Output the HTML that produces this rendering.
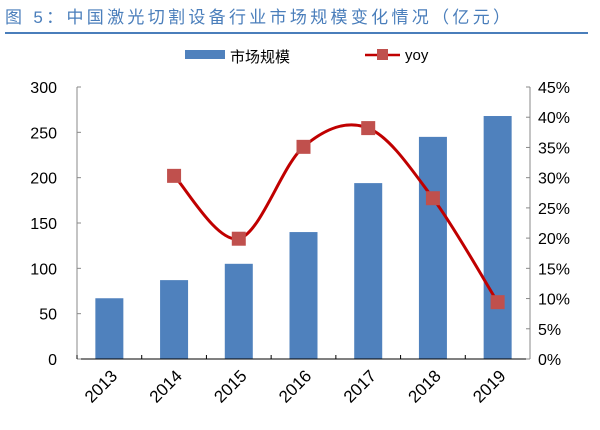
<!DOCTYPE html>
<html><head><meta charset="utf-8"><style>
body{margin:0;background:#fff;width:600px;height:425px;overflow:hidden}
svg{font-family:"Liberation Sans","Noto Sans CJK SC",sans-serif}
</style></head><body>
<svg width="600" height="425">
<text x="5" y="23" font-size="17" fill="#4a7ebb" textLength="505" lengthAdjust="spacing">图 5：中国激光切割设备行业市场规模变化情况（亿元）</text>
<line x1="5" y1="33" x2="588" y2="33" stroke="#4a7ebb" stroke-width="2"/>
<g>
<rect x="185" y="50" width="40" height="9" fill="#4f81bd"/>
<text x="230" y="62" font-size="15" fill="#000">市场规模</text>
<line x1="365" y1="55" x2="400" y2="55" stroke="#c00000" stroke-width="2.5"/>
<rect x="377" y="49" width="11" height="11" fill="#c0504d"/>
<text x="405" y="60" font-size="15" fill="#000">yoy</text>
</g>
<g id="plot"></g>
</svg>
<script>
const categories=["2013","2014","2015","2016","2017","2018","2019"];
const marketSize=[67,87,105,140,194,245,268];
const yoy=[null,30.3,19.9,35.1,38.2,26.6,9.4];
const leftTicks=[0,50,100,150,200,250,300];
const rightTicks=[0,5,10,15,20,25,30,35,40,45];
const X0=77,X1=530,Y0=359,Y1=87;
const NS="http://www.w3.org/2000/svg";
const g=document.getElementById('plot');
const bw=(X1-X0)/categories.length;
const xc=i=>X0+bw*(i+0.5);
const yL=v=>Y0-(v/300)*(Y0-Y1);
const yR=v=>Y0-(v/45)*(Y0-Y1);
function mk(t,a){const e=document.createElementNS(NS,t);for(const k in a)e.setAttribute(k,a[k]);g.appendChild(e);return e;}
marketSize.forEach((v,i)=>{
 const r=mk('rect',{x:xc(i)-14,y:yL(v),width:28,height:Y0-yL(v),fill:'#4f81bd'});
 
 
});
let a=mk('line',{x1:X0,y1:Y1,x2:X0,y2:Y0,stroke:'#888'});


a=mk('line',{x1:X1,y1:Y1,x2:X1,y2:Y0,stroke:'#888'});


a=mk('line',{x1:X0,y1:Y0,x2:X1,y2:Y0,stroke:'#000'});


leftTicks.forEach(v=>{
 mk('line',{x1:X0,y1:yL(v),x2:X0+4,y2:yL(v),stroke:'#888'});
 const t=mk('text',{x:X0-20,y:yL(v)+6,'font-size':16,'text-anchor':'end'});t.textContent=v;
 
 
});
rightTicks.forEach(v=>{
 mk('line',{x1:X1,y1:yR(v),x2:X1-4,y2:yR(v),stroke:'#888'});
 const t=mk('text',{x:X1+8,y:yR(v)+6,'font-size':16});t.textContent=v+'%';
 
 
});
categories.forEach((c,i)=>{
 mk('line',{x1:X0+bw*i,y1:Y0,x2:X0+bw*i,y2:Y0-4,stroke:'#000'});
 const t=mk('text',{x:xc(i)+9,y:Y0+18,'font-size':17,'text-anchor':'end',transform:`rotate(-45 ${xc(i)+9} ${Y0+18})`});t.textContent=c;
 
 
});
const pts=[];yoy.forEach((v,i)=>{if(v!=null)pts.push([xc(i),yR(v)]);});
let d='M'+pts[0][0]+','+pts[0][1];
for(let i=0;i<pts.length-1;i++){
 const p0=pts[i-1]||pts[i],p1=pts[i],p2=pts[i+1],p3=pts[i+2]||p2;
 const c1=[p1[0]+(p2[0]-p0[0])/6,p1[1]+(p2[1]-p0[1])/6],c2=[p2[0]-(p3[0]-p1[0])/6,p2[1]-(p3[1]-p1[1])/6];
 d+=` C${c1[0]},${c1[1]} ${c2[0]},${c2[1]} ${p2[0]},${p2[1]}`;
}
const ln=mk('path',{d:d,fill:'none',stroke:'#c00000','stroke-width':3});


yoy.forEach((v,i)=>{if(v==null)return;
 const m=mk('rect',{x:xc(i)-7,y:yR(v)-7,width:14,height:14,fill:'#c0504d'});
 
 
});
</script>
</body></html>
